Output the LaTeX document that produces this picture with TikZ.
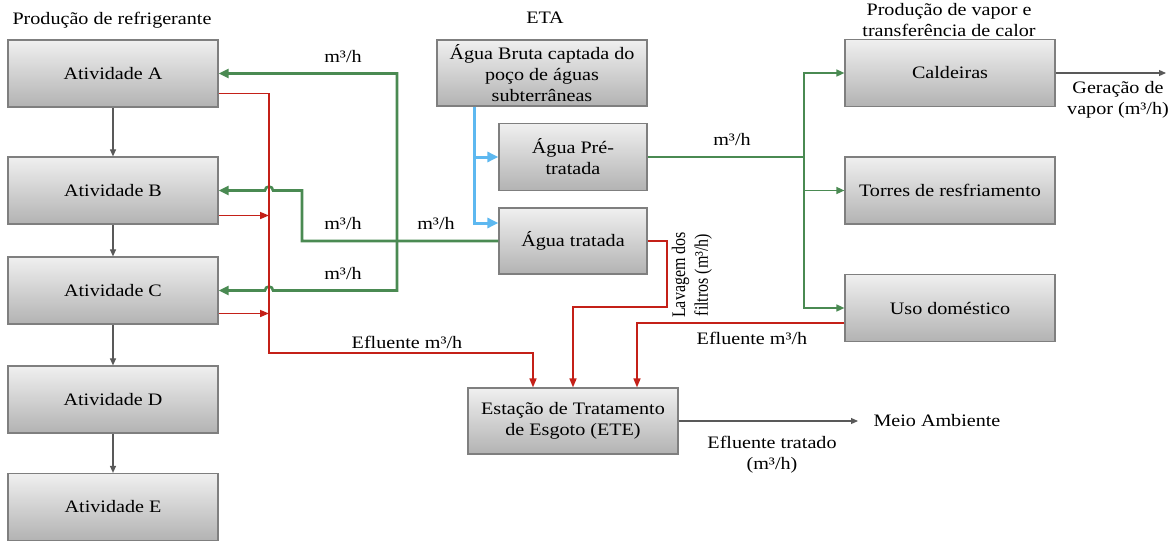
\documentclass[tikz,border=0pt]{standalone}
\usepackage{fontspec}
\setmainfont{Liberation Serif}[FakeStretch=1.15]
\newfontfamily\plainserif{Liberation Serif}
\usetikzlibrary{positioning, arrows.meta}
\definecolor{FLgreen}{HTML}{4A8A52}
\definecolor{FLred}{HTML}{C42018}
\definecolor{FLblue}{HTML}{5DB8F0}
\definecolor{FLgrey}{HTML}{595959}
\definecolor{FLedge}{HTML}{7F7F7F}

\begin{document}
\begin{tikzpicture}[
  x=1pt, y=-1pt,
  font=\fontsize{17.5}{21}\selectfont,
  box/.style={draw=FLedge, line width=1.2pt, top color=gray!12,
              bottom color=gray!60, align=center,
              minimum width=210pt, minimum height=67pt, inner sep=2pt},
  smallbox/.style={box, minimum width=148pt},
  arr/.style={-{Triangle[length=7pt, width=6pt]}, line width=1.1pt, FLgrey},
  thinflow/.style={-{Triangle[length=8pt, width=7pt]}, line width=1.5pt, FLgreen},
  flow/.style={>={Triangle[length=10pt, width=9pt]}, line width=2.6pt, FLgreen},
  rawflow/.style={-{Triangle[length=11pt, width=10pt]}, line width=3pt, FLblue},
  effl/.style={-{Triangle[length=9pt, width=7pt]}, line width=1.6pt, FLred},
]
\useasboundingbox (0,0) rectangle (1173,541);

% producao de refrigerante
\node (tref) at (112,20) {Produção de refrigerante};
\node[box] (a) at (113,73.5) {Atividade A};
\node[box] (b) at (113,190.5) {Atividade B};
\node[box] (c) at (113,290.5) {Atividade C};
\node[box] (d) at (113,399.5) {Atividade D};
\node[box] (e) at (113,507) {Atividade E};
\foreach \u/\v in {a/b, b/c, c/d, d/e}
  \draw[arr] (\u) -- (\v);

% ETA
\node (teta) at (545,18) {ETA};
\node[box, minimum height=66pt] (bruta) at (542,73)
  {Água Bruta captada do\\poço de águas\\subterrâneas};
\node[smallbox] (pre) at (573,157) {Água Pré-\\tratada};
\node[smallbox, minimum height=66pt] (trat) at (573,241) {Água tratada};

% vapor e calor
\node[align=center] (tvap) at (949,20)
  {Produção de vapor e\\transferência de calor};
\node[box] (cald) at (950,73) {Caldeiras};
\node[box] (torres) at (950,190.5) {Torres de resfriamento};
\node[box] (uso) at (950,308) {Uso doméstico};

% ETE
\node[box, minimum height=66pt] (ete) at (573,421)
  {Estação de Tratamento\\de Esgoto (ETE)};
\node[anchor=west] (meio) at (870,421) {Meio Ambiente};

\coordinate (bsplit) at (474,157);
\coordinate (gsplit) at (804,157);
\coordinate (gb) at (302,241);
\coordinate (gac) at (397,241);
\coordinate (rv) at (269,353);
\coordinate (lv) at (667,307);
\coordinate (vap) at (1166,73);

% agua bruta
\draw[rawflow] (bruta.south -| bsplit) |- ([yshift=18pt]trat.west);
\draw[rawflow] (bsplit) -- (pre.west);

% agua pre-tratada
\draw[line width=1.5pt, FLgreen] (pre.east) -- (gsplit);
\draw[thinflow] (gsplit) |- (cald.west);
\draw[thinflow] (gsplit) -- (torres.west -| gsplit) -- (torres.west);
\draw[thinflow] (gsplit) |- (uso.west);

% agua tratada
\draw[flow, ->] (trat.west) -- (gb) -- (gb |- b.east)
  -- ([xshift=4pt]rv |- b.east) arc[start angle=0, end angle=180, radius=4pt]
  -- (b.east);
\draw[flow, <->] (a.east) -| (gac |- c.east)
  -- ([xshift=4pt]rv |- c.east) arc[start angle=0, end angle=180, radius=4pt]
  -- (c.east);

% efluentes
\draw[effl] ([yshift=-20pt]a.east) -| (rv) -| ([xshift=-40pt]ete.north);
\draw[effl] ([yshift=-25pt]b.east) -- ([yshift=-25pt]b.east -| rv);
\draw[effl] ([yshift=-23pt]c.east) -- ([yshift=-23pt]c.east -| rv);
\draw[effl] (trat.east) -| (lv) -| (ete.north);
\draw[effl] ([yshift=-15pt]uso.west) -| ([xshift=64pt]ete.north);

\draw[arr] (cald.east) -- (vap);
\draw[arr] (ete.east) -- ([xshift=-12pt]meio.west);

% rotulos
\node (q1) at (343,57) {m³/h};
\node (q2) at (343,224) {m³/h};
\node (q3) at (343,274) {m³/h};
\node (q4) at (436,224) {m³/h};
\node (q5) at (732,140) {m³/h};
\node (ef1) at (407,342) {Efluente m³/h};
\node (ef2) at (752,338) {Efluente m³/h};
\node[rotate=90, font=\plainserif\fontsize{16}{19}\selectfont]
  (lav) at (692,275)
  {\scalebox{1}[1.2]{\begin{tabular}{@{}c@{}}Lavagem dos\\filtros (m³/h)\end{tabular}}};
\node[align=center] (lvap) at (1118,100) {Geração de\\vapor (m³/h)};
\node[align=center] (eft) at (772,455) {Efluente tratado\\(m³/h)};
\end{tikzpicture}
\end{document}
